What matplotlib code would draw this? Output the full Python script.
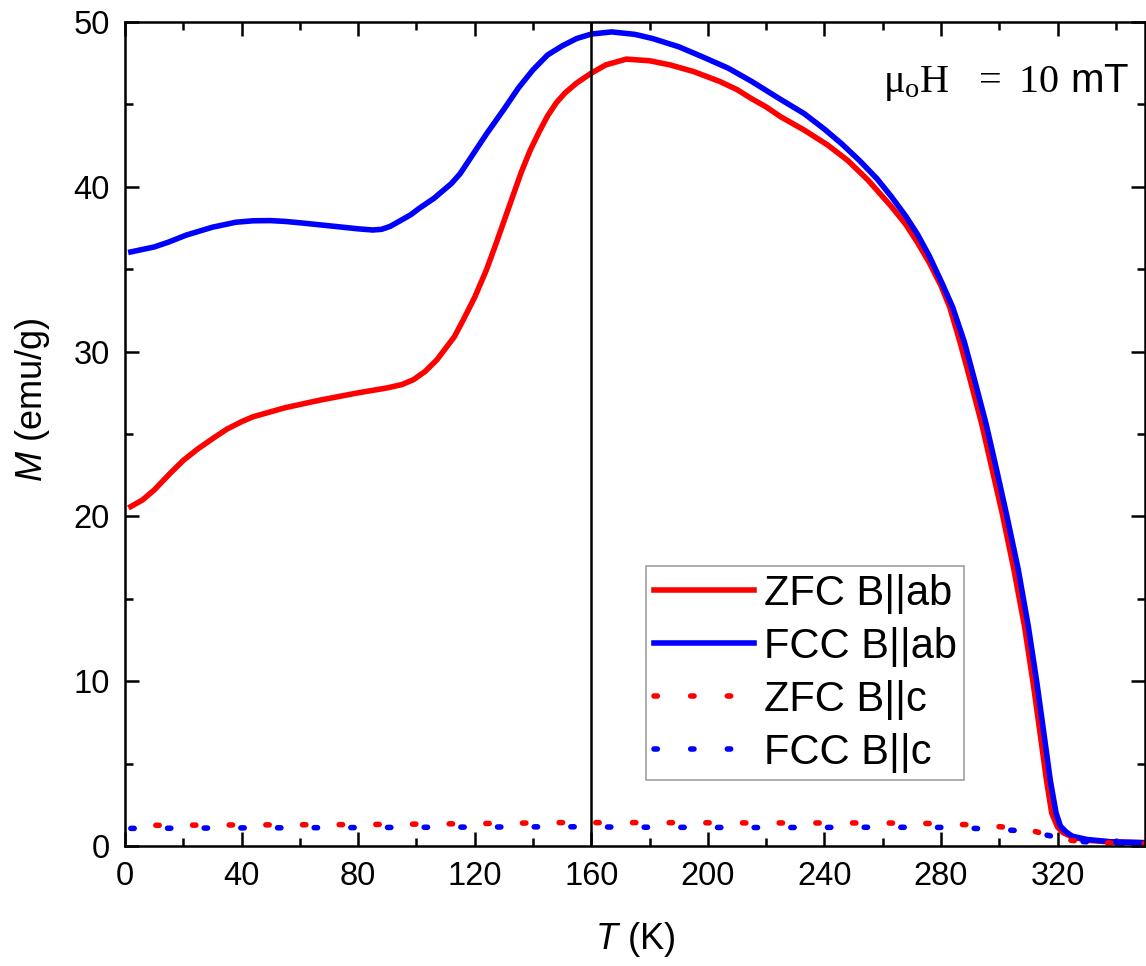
import matplotlib
matplotlib.use("Agg")
from matplotlib import pyplot as plt

plt.rcParams['font.family'] = ['Liberation Sans', 'DejaVu Sans']
plt.rcParams['mathtext.fontset'] = 'custom'
plt.rcParams['mathtext.rm'] = 'Liberation Serif'
plt.rcParams['mathtext.it'] = 'Liberation Sans:italic'

# ZFC, field in ab plane
zfc_ab_T = [2, 6, 10, 15.4, 20, 25, 30.3, 35, 40, 44, 50, 55, 67, 80, 90, 95, 99,
            103, 107, 110, 113, 116, 120, 124, 127, 130, 133, 136, 139, 142, 145,
            148, 151, 155, 160, 165, 172, 180, 187, 195, 204, 210, 215, 220, 225,
            233, 241, 248, 255, 263, 268, 272, 276, 280, 283, 286.5, 290, 294,
            297.5, 301, 305, 308.7, 311.7, 314.2, 316.2, 318, 320, 322, 325,
            330, 338, 350]
zfc_ab_M = [20.6, 21.0, 21.6, 22.6, 23.4, 24.1, 24.75, 25.3, 25.75, 26.05, 26.35,
            26.6, 27.06, 27.5, 27.8, 28.0, 28.3, 28.8, 29.5, 30.2, 30.9, 31.9, 33.3,
            34.95, 36.4, 37.9, 39.4, 40.9, 42.2, 43.3, 44.3, 45.1, 45.7, 46.3, 46.9,
            47.4, 47.75, 47.65, 47.4, 47.0, 46.4, 45.9, 45.35, 44.85, 44.25, 43.45,
            42.55, 41.6, 40.4, 38.8, 37.7, 36.6, 35.4, 34.0, 32.7, 30.6, 28.3, 25.6,
            22.9, 20.2, 16.8, 13.3, 9.8, 6.6, 4.0, 2.0, 1.15, 0.8, 0.55, 0.35,
            0.25, 0.2]

# FCC, field in ab plane
fcc_ab_T = [2, 10, 15, 21, 30, 38, 44, 50, 55, 61, 72, 80, 85, 88, 91, 95, 98, 101,
            106, 112, 115, 118, 121, 124, 127, 130, 135, 140, 145, 150, 155, 160,
            167, 175, 181, 190, 198, 207, 215, 225, 233, 240, 246, 252, 258, 263,
            268, 272, 276, 280.5, 284, 288, 291.5, 295.5, 299, 302.4, 306.5, 310,
            313, 315.5, 317.5, 319.5, 321, 323, 325, 330, 338, 350]
fcc_ab_M = [36.05, 36.35, 36.65, 37.07, 37.55, 37.85, 37.94, 37.95, 37.9, 37.8,
            37.6, 37.45, 37.38, 37.42, 37.6, 38.0, 38.3, 38.7, 39.3, 40.2, 40.8,
            41.6, 42.4, 43.2, 43.95, 44.7, 46.0, 47.1, 48.0, 48.55, 49.0, 49.27,
            49.4, 49.25, 49.0, 48.5, 47.9, 47.2, 46.4, 45.3, 44.45, 43.5, 42.6,
            41.6, 40.5, 39.4, 38.2, 37.1, 35.8, 34.1, 32.7, 30.6, 28.3, 25.6, 22.9,
            20.2, 16.8, 13.3, 9.8, 6.6, 4.0, 2.0, 1.2, 0.85, 0.6, 0.4, 0.26, 0.2]

# field along c
c_T = [2, 40, 80, 120, 150, 180, 220, 260, 280, 295, 305, 312, 318, 323, 328, 335, 350]
zfc_c_M = [1.25, 1.28, 1.3, 1.36, 1.42, 1.42, 1.4, 1.4, 1.36, 1.25, 1.1, 0.9, 0.6,
           0.38, 0.28, 0.2, 0.15]
fcc_c_M = [1.07, 1.1, 1.12, 1.15, 1.17, 1.14, 1.12, 1.14, 1.13, 1.05, 0.95, 0.82,
           0.6, 0.38, 0.28, 0.2, 0.15]

labels = ['ZFC B||ab', 'FCC B||ab', 'ZFC B||c', 'FCC B||c']

dots = (0.6, 6.0)

fig = plt.figure(figsize=(11.46, 9.66), dpi=100)
ax = fig.add_axes([0.1091, 0.1242, 0.890, 0.853])

ax.plot(zfc_ab_T, zfc_ab_M, color='#ff0000', lw=4, label=labels[0])
ax.plot(fcc_ab_T, fcc_ab_M, color='#0000ff', lw=4, label=labels[1])
ax.plot(c_T, zfc_c_M, color='#ff0000', lw=4, ls=(2.1, dots),
        dash_capstyle='round', label=labels[2])
ax.plot(c_T, fcc_c_M, color='#0000ff', lw=4, ls=(0, dots),
        dash_capstyle='round', label=labels[3])
ax.axvline(160, color='black', lw=1.8)

ax.set_xlim(0, 350)
ax.set_ylim(0, 50)
ax.set_xticks(range(0, 350, 40))
ax.set_xticks(range(20, 350, 40), minor=True)
ax.set_yticks(range(0, 51, 10))
ax.set_yticks(range(5, 50, 10), minor=True)

ax.tick_params(which='both', direction='in', top=True, right=True, width=1.8,
               labelsize=23.5, pad=11)
ax.tick_params(which='major', length=10)
ax.tick_params(which='minor', length=6)
for s in ax.spines.values():
    s.set_linewidth(1.8)

ax.set_xlabel('$T$ (K)', fontsize=26)
ax.set_ylabel('$M$ (emu/g)', fontsize=26)
ax.xaxis.set_label_coords(0.5, -0.090)
ax.yaxis.set_label_coords(-0.072, 0.541)

ax.text(0.985, 0.915, r'$\mathrm{μ_o H\ \ =\ 10}$ mT', transform=ax.transAxes,
        ha='right', va='baseline', fontsize=29)

leg = ax.legend(loc='lower left', bbox_to_anchor=(0.511, 0.080), borderaxespad=0,
                fontsize=30, frameon=True, fancybox=False, edgecolor='#888888',
                borderpad=0.18, labelspacing=0.31, handletextpad=0.24,
                handlelength=2.4)
leg.get_frame().set_linewidth(1.2)
# dotted handles start at the same phase in the legend
for line in leg.get_lines()[2:]:
    line.set_linestyle((0, dots))
    line.set_dash_capstyle('round')

fig.savefig('out.png', dpi=100)
